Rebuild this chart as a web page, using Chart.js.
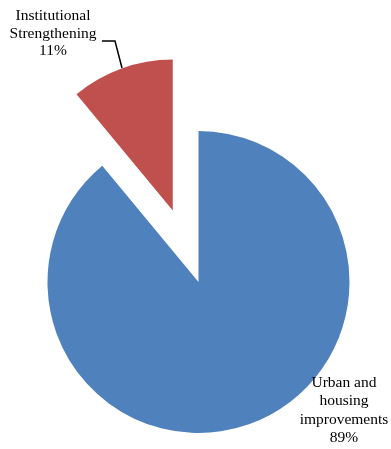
<!DOCTYPE html>
<html>
<head>
<meta charset="utf-8">
<script src="https://cdn.jsdelivr.net/npm/chart.js@4"></script>
<style>
  html, body { margin: 0; padding: 0; background: #fff; }
  #wrap { width: 391px; height: 449px; }
</style>
</head>
<body>
<div id="wrap"><canvas id="pie" width="391" height="449"></canvas></div>
<script>
const categories = ['Urban and housing improvements', 'Institutional Strengthening'];
const shares = [89, 11];
const sliceColors = ['#4F81BD', '#C0504D'];
const explodeBy = [0, 76];
const labelLines = [
  ['Urban and', 'housing', 'improvements', '89%'],
  ['Institutional', 'Strengthening', '11%'],
];

// Chart.js' own offset also grows the radius, so push the slice out by hand
const explodePlugin = {
  id: 'explode',
  afterDatasetsUpdate(chart) {
    chart.getDatasetMeta(0).data.forEach((arc, i) => {
      const d = explodeBy[i] || 0;
      if (!d) return;
      const mid = (arc.startAngle + arc.endAngle) / 2;
      arc.x += Math.cos(mid) * d;
      arc.y += Math.sin(mid) * d;
    });
  }
};

const labelPlugin = {
  id: 'sliceLabels',
  afterDraw(chart) {
    const ctx = chart.ctx;
    ctx.save();
    ctx.fillStyle = '#000';
    ctx.font = '15.5px "Liberation Serif", "Times New Roman", serif';
    ctx.textAlign = 'center';
    ctx.textBaseline = 'alphabetic';
    labelLines[0].forEach((t, i) => ctx.fillText(t, 344, 387 + i * 18.3));
    labelLines[1].forEach((t, i) => ctx.fillText(t, 53, 20 + i * 17.5));
    ctx.strokeStyle = '#000';
    ctx.lineWidth = 1.5;
    ctx.beginPath();
    ctx.moveTo(102, 41);
    ctx.lineTo(115, 41);
    ctx.lineTo(122, 68);
    ctx.stroke();
    ctx.restore();
  }
};

new Chart(document.getElementById('pie'), {
  type: 'pie',
  data: {
    labels: categories,
    datasets: [{
      data: shares,
      backgroundColor: sliceColors,
      borderWidth: 0,
      hoverOffset: 0,
    }],
  },
  options: {
    responsive: false,
    animation: false,
    events: [],
    radius: 151,
    layout: { padding: { left: 6, right: 0, top: 115, bottom: 0 } },
    plugins: { legend: { display: false }, tooltip: { enabled: false } },
  },
  plugins: [explodePlugin, labelPlugin],
});
</script>
</body>
</html>
